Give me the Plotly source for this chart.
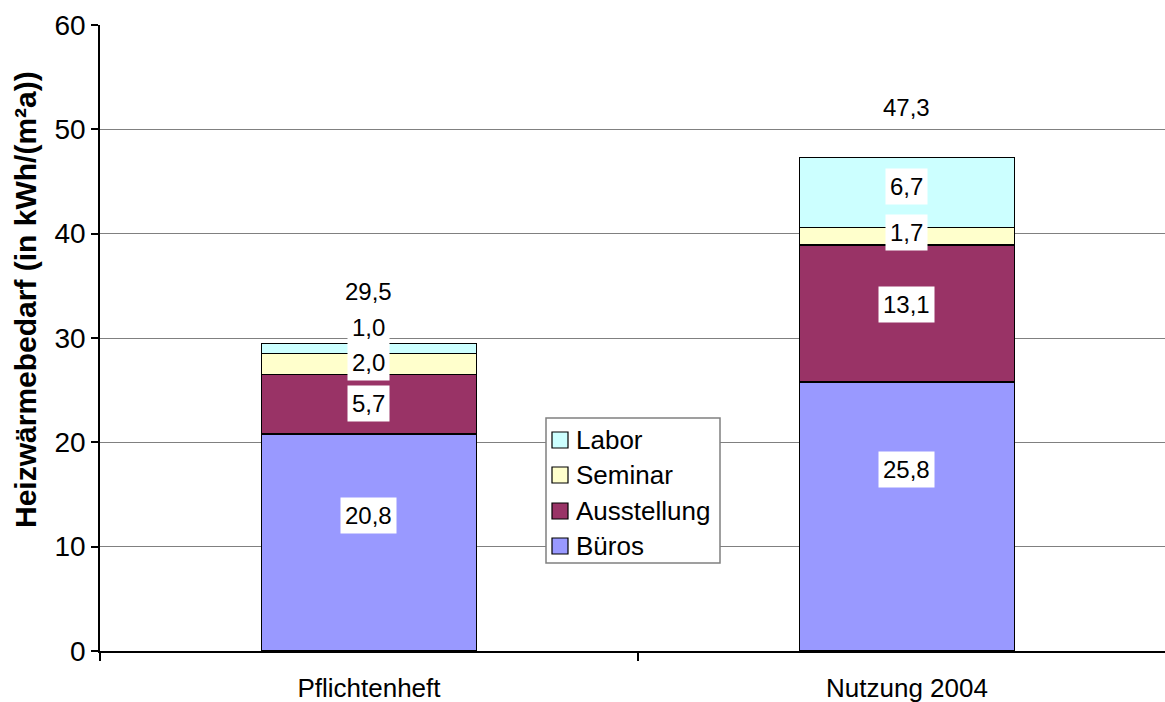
import plotly.graph_objects as go

# Heizwärmebedarf nach Nutzungsbereich
categories = ["Pflichtenheft", "Nutzung 2004"]
series_names = ["Büros", "Ausstellung", "Seminar", "Labor"]
bueros = [20.8, 25.8]
ausstellung = [5.7, 13.1]
seminar = [2.0, 1.7]
labor = [1.0, 6.7]
totals = [29.5, 47.3]

# vertical placement of the value labels (data units), per series and category
label_y_bueros = [13.0, 17.35]
label_y_ausstellung = [23.7, 33.2]
label_y_seminar = [27.7, 40.1]
label_y_labor = [31.0, 44.5]
label_y_total = [34.5, 52.1]

colors = ["#9999FF", "#993366", "#FFFFCC", "#CCFFFF"]
FONT = "Liberation Sans, Arial, sans-serif"

W, H = 1165, 702
ML, MR, MT, MB = 100, 0, 25, 51

values = [bueros, ausstellung, seminar, labor]
label_pos = [label_y_bueros, label_y_ausstellung, label_y_seminar, label_y_labor]


def de(v):
    return f"{v:.1f}".replace(".", ",")


def px_x(px):
    return (px - ML) / (W - ML - MR)


def px_y(py):
    return (H - MB - py) / (H - MT - MB)


fig = go.Figure()
for name, vals, col in zip(series_names, values, colors):
    fig.add_trace(go.Bar(
        x=categories, y=vals, name=name,
        marker=dict(color=col, line=dict(color="#000000", width=1.4)),
        hoverinfo="skip", showlegend=False,
    ))

annotations = []
for vals, ys in zip(values, label_pos):
    for cat, v, yy in zip(categories, vals, ys):
        annotations.append(dict(
            x=cat, y=yy, xref="x", yref="y", text=de(v), showarrow=False,
            font=dict(family=FONT, size=24, color="#000000"),
            bgcolor="#FFFFFF", borderpad=4,
        ))
for cat, t, yy in zip(categories, totals, label_y_total):
    annotations.append(dict(
        x=cat, y=yy, xref="x", yref="y", text=de(t), showarrow=False,
        font=dict(family=FONT, size=24, color="#000000"),
    ))

# y-axis title
annotations.append(dict(
    x=px_x(25), y=px_y(300), xref="paper", yref="paper",
    text="<b>Heizwärmebedarf (in kWh/(m²a))</b>", textangle=-90,
    showarrow=False, xanchor="center", yanchor="middle",
    font=dict(family=FONT, size=30, color="#000000"),
))

# legend box with swatches, top entry first (Labor ... Büros)
shapes = [dict(
    type="rect", xref="paper", yref="paper",
    x0=px_x(546), x1=px_x(720), y0=px_y(563), y1=px_y(418),
    fillcolor="#FFFFFF", line=dict(color="#808080", width=1.5), layer="above",
)]
row_centers = [546, 511, 475, 440]
for name, col, cy in zip(series_names, colors, row_centers):
    shapes.append(dict(
        type="rect", xref="paper", yref="paper",
        x0=px_x(552), x1=px_x(568), y0=px_y(cy + 8), y1=px_y(cy - 8),
        fillcolor=col, line=dict(color="#000000", width=1.2), layer="above",
    ))
    annotations.append(dict(
        x=px_x(574), y=px_y(cy), xref="paper", yref="paper",
        text=name, showarrow=False, xanchor="left", yanchor="middle",
        font=dict(family=FONT, size=26, color="#000000"),
    ))

fig.update_layout(
    width=W, height=H,
    margin=dict(l=ML, r=MR, t=MT, b=MB),
    paper_bgcolor="#FFFFFF", plot_bgcolor="#FFFFFF",
    barmode="stack", bargap=0.6,
    font=dict(family=FONT, size=24, color="#000000"),
    showlegend=False,
    xaxis=dict(
        type="category", range=[-0.5, 1.4796],
        tickson="boundaries", ticks="outside", ticklen=8, tickwidth=1.5,
        tickcolor="#000000", ticklabelstandoff=13,
        showline=True, linecolor="#000000", linewidth=1.5,
        showgrid=False, zeroline=False,
        tickfont=dict(family=FONT, size=26, color="#000000"),
    ),
    yaxis=dict(
        range=[0, 60], dtick=10, tick0=0,
        ticks="outside", ticklen=7, tickwidth=1.5, tickcolor="#000000",
        showline=True, linecolor="#000000", linewidth=1.5,
        showgrid=True, gridcolor="#808080", gridwidth=1.3,
        zeroline=False,
        tickfont=dict(family=FONT, size=28, color="#000000"),
    ),
    shapes=shapes,
    annotations=annotations,
)

fig.write_html("out.html")
